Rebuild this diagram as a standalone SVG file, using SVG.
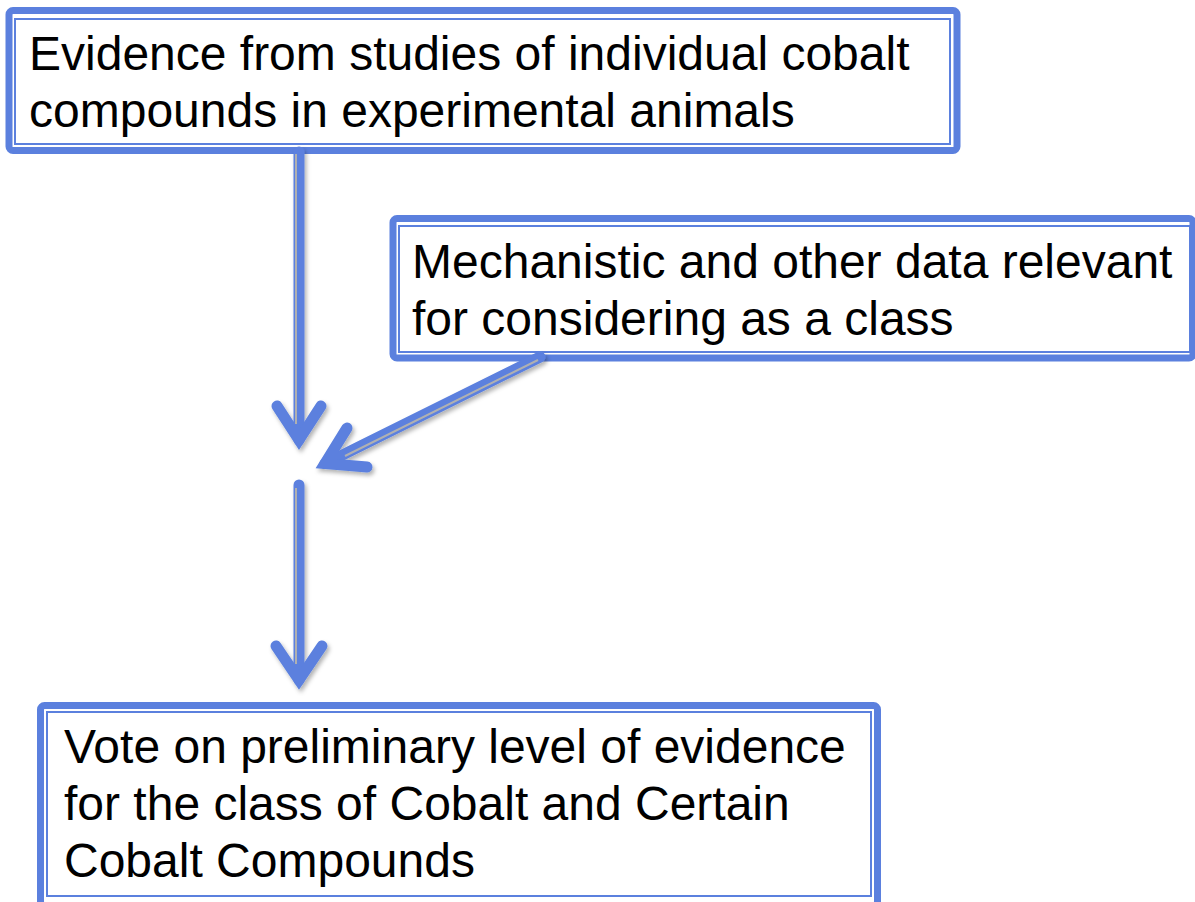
<svg xmlns="http://www.w3.org/2000/svg" width="1195" height="902" viewBox="0 0 1195 902">
<defs>
<filter id="sh" x="-20%" y="-20%" width="140%" height="140%">
<feDropShadow dx="2" dy="3" stdDeviation="2" flood-color="#000" flood-opacity="0.3"/>
</filter>
<style>
.outer{fill:#fff;stroke:#5b80de;stroke-width:7}
.inner{fill:none;stroke:#5b80de;stroke-width:2}
.t{font-family:"Liberation Sans",Arial,sans-serif;font-size:48px;fill:#000}
.shaft{fill:none;stroke:#5b80de;stroke-width:11;stroke-linecap:round;stroke-linejoin:miter}
.core{fill:none;stroke:#b0b0b0;stroke-width:2}
</style>
</defs>
<rect width="1195" height="902" fill="#fff"/>
<g id="node-evidence">
<rect class="outer" x="9" y="10.5" width="948" height="140" rx="4"/>
<rect class="inner" x="15" y="19" width="935" height="125"/>
<text class="t" x="29" y="70">Evidence from studies of individual cobalt</text>
<text class="t" x="29" y="127">compounds in experimental animals</text>
</g>
<g id="node-mechanistic">
<rect class="outer" x="393" y="218.5" width="800" height="139.5" rx="4"/>
<rect class="inner" x="399" y="226" width="791" height="126"/>
<text class="t" x="412" y="278">Mechanistic and other data relevant</text>
<text class="t" x="412" y="335">for considering as a class</text>
</g>
<g id="node-vote">
<rect class="outer" x="40.5" y="705.5" width="837" height="200" rx="4"/>
<rect class="inner" x="47" y="712" width="824" height="184"/>
<text class="t" x="64" y="763">Vote on preliminary level of evidence</text>
<text class="t" x="64" y="820">for the class of Cobalt and Certain</text>
<text class="t" x="64" y="877">Cobalt Compounds</text>
</g>
<g id="connectors" filter="url(#sh)">
<path class="shaft" d="M299 152 L299 440"/>
<path class="shaft" d="M277 406 L299 440 L321 406"/>
<path class="core" d="M296 154 L296 424"/>
<path class="shaft" d="M540 357 L325 463.6"/>
<path class="shaft" d="M347 428 L325 463.6 L367 467"/>
<path class="core" d="M538 360 L345 456"/>
<path class="shaft" d="M299 485 L299 680"/>
<path class="shaft" d="M276 646 L299 680 L322 646"/>
<path class="core" d="M296 488 L296 664"/>
</g>
</svg>
